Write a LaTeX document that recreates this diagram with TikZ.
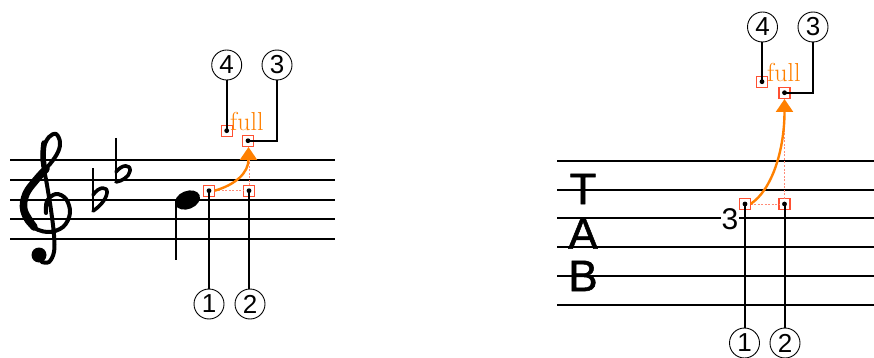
\documentclass[tikz,border=0pt]{standalone}
\usepackage{fontspec}
\newfontfamily\sansf{Liberation Sans}
\newfontfamily\sanstab[FakeBold=1.2]{Liberation Sans}
\usetikzlibrary{arrows.meta}
\definecolor{bendor}{RGB}{255,128,0}
\definecolor{boxred}{RGB}{255,80,50}
\definecolor{dotred}{RGB}{255,140,120}
\begin{document}
\begin{tikzpicture}[x=1pt,y=-1pt,
 staffline/.style={line width=2pt, black},
 glyph/.style={line width=4pt, black, line cap=round, line join=round},
 pbox/.style={draw=boxred, line width=1.1pt, minimum size=11pt, inner sep=0pt, outer sep=0pt, rectangle},
 callnum/.style={circle, draw, line width=0.9pt, minimum size=30pt, inner sep=0pt, font=\sansf\fontsize{26}{26}\selectfont},
 callline/.style={line width=2pt, black},
 bendarrow/.style={line width=2.4pt, bendor, -{Triangle[width=17pt,length=13pt]}},
 guide/.style={dotred, line width=0.8pt, dash pattern=on 2pt off 1.5pt},
 fulltext/.style={text=bendor, font=\fontsize{26}{26}\selectfont, inner sep=0pt, anchor=base west},
 tabletter/.style={font=\sanstab\fontsize{44}{44}\selectfont, inner sep=0pt},
 tabnum/.style={font=\sansf\fontsize{30}{30}\selectfont, inner sep=1pt, fill=white},
]
\useasboundingbox (0,0) rectangle (874,358);

% ---------- left: standard staff ----------
\foreach \yy in {160,180,200,219,239}
  \draw[staffline] (10,\yy) -- (335,\yy);

% treble clef
\draw[glyph] plot[smooth, tension=0.6] coordinates {(46,213) (47,201) (56,194) (66,199) (70,213) (63,227) (47,232) (30,225) (22,209) (26,192) (37,178) (50,164) (58,152) (60,142) (56,134) (49,137) (44,147) (43,162) (47,185) (51,210) (54,235) (54,252) (49,262) (42,262)};
\draw[glyph, line width=7.5pt] plot[smooth, tension=0.6] coordinates {(34,227) (24,210) (26,194) (36,180) (46,169)};
\draw[glyph, line width=5.5pt] plot[smooth, tension=0.6] coordinates {(44,143) (43,155) (44,166)};
\fill (39,255) circle (7.5pt);

% flats
\draw[line width=2.2pt] (93,168) -- (93,212);
\draw[glyph, line width=3.6pt] (93,195) .. controls (99,186) and (108,186) .. (107,193) .. controls (106,200) and (99,207) .. (93,211);
\draw[line width=2.2pt] (116,138) -- (116,183);
\draw[glyph, line width=3.6pt] (116,172) .. controls (122,164) and (131,164) .. (130,171) .. controls (129,177) and (122,181) .. (116,182);

% note
\fill[rotate around={22:(187.5,200)}] (187.5,200) ellipse [x radius=13, y radius=9];
\draw[line width=2pt] (175.5,203) -- (175.5,260);

% bend markers
\node[pbox] (L1) at (209,190.7) {};
\node[pbox] (L2) at (249,190.7) {};
\node[pbox] (L3) at (248,140.7) {};
\node[pbox] (L4) at (226.7,130.7) {};
\node[fulltext] (Lfull) at (230,131) {full};
\draw[guide] (L1.east) -- (L2.west);
\draw[guide] (L2.north) -- (249,160);
\draw[bendarrow] (L1.east) .. controls (235,185) and (248.5,173) .. (248.5,147);

\node[callnum] (Lc1) at (209,304) {1};
\node[callnum] (Lc2) at (250,304) {2};
\node[callnum] (Lc3) at (277,65) {3};
\node[callnum] (Lc4) at (226.7,65) {4};
\draw[callline] (Lc1.north) -- (L1.center);
\draw[callline] (Lc2.north -| L2) -- (L2.center);
\draw[callline] (Lc3.south) |- (L3.center);
\draw[callline] (Lc4.south) -- (L4.center);
\foreach \n in {L1,L2,L3,L4} \fill (\n.center) circle (2.4pt);

% ---------- right: tablature ----------
\foreach \yy in {161,190,218,247,276,305}
  \draw[staffline] (557,\yy) -- (874,\yy);
\node[tabletter] (tT) at (583,189) {T};
\node[tabletter] (tA) at (583,233.5) {A};
\node[tabletter] (tB) at (583,276) {B};
\node[tabnum] (n3) at (730,219) {3};

\node[pbox] (R1) at (745,204) {};
\node[pbox] (R2) at (784.5,204) {};
\node[pbox] (R3) at (784.5,92.7) {};
\node[pbox] (R4) at (762,81.7) {};
\node[fulltext] (Rfull) at (767,82) {full};
\draw[guide] (R1.east) -- (R2.west);
\draw[guide] (R2.north) -- (784.5,110);
\draw[bendarrow] (R1.east) .. controls (772,190) and (784.5,150) .. (784.5,99);

\node[callnum] (Rc1) at (744.5,343) {1};
\node[callnum] (Rc2) at (785,343) {2};
\node[callnum] (Rc3) at (813,27) {3};
\node[callnum] (Rc4) at (762.5,27) {4};
\draw[callline] (Rc1.north -| R1) -- (R1.center);
\draw[callline] (Rc2.north -| R2) -- (R2.center);
\draw[callline] (Rc3.south) |- (R3.center);
\draw[callline] (Rc4.south -| R4) -- (R4.center);
\foreach \n in {R1,R2,R3,R4} \fill (\n.center) circle (2.4pt);
\end{tikzpicture}
\end{document}
